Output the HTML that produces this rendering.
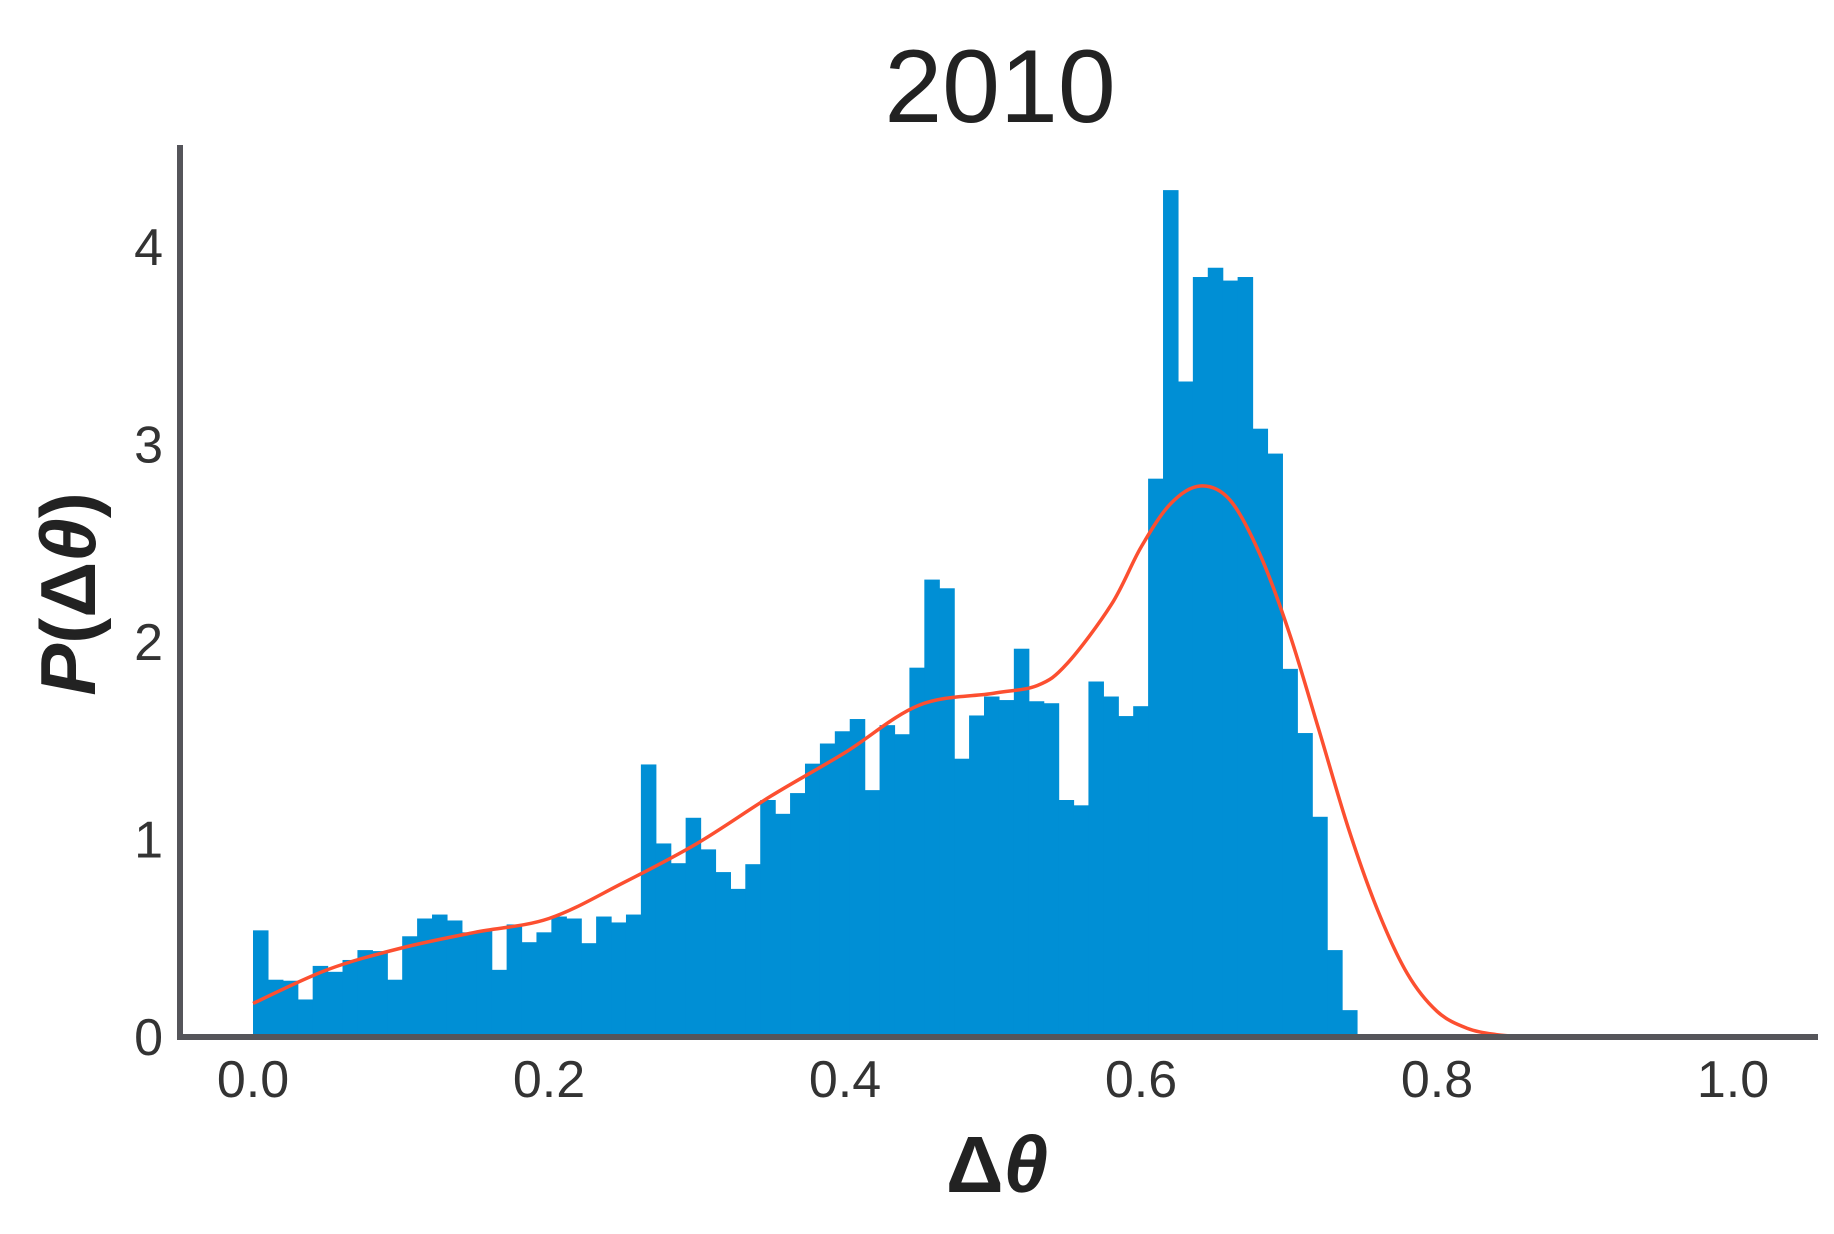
<!DOCTYPE html>
<html><head><meta charset="utf-8"><style>
html,body{margin:0;padding:0;background:#fff;}
svg{display:block;font-family:"Liberation Sans",sans-serif;}
</style></head><body>
<svg id="chart" width="1834" height="1234" viewBox="0 0 1834 1234" xmlns="http://www.w3.org/2000/svg">
<rect width="1834" height="1234" fill="#fff"/>
<text x="1000" y="122" font-size="104" text-anchor="middle" fill="#222">2010</text>
<g id="bars"></g>
<path id="kde" fill="none" stroke="#fc4f30" stroke-width="3.5"/>
<line x1="180" y1="145" x2="180" y2="1040" stroke="#55555a" stroke-width="6"/>
<line x1="177" y1="1037" x2="1818" y2="1037" stroke="#55555a" stroke-width="6"/>
<g id="xticks"></g>
<g id="yticks"></g>
<text x="997" y="1192" font-size="80" font-weight="bold" text-anchor="middle" fill="#222">Δ<tspan font-style="italic">θ</tspan></text>
<text transform="translate(95,594) rotate(-90)" font-size="78" font-weight="bold" text-anchor="middle" fill="#222"><tspan font-style="italic">P</tspan>(Δ<tspan font-style="italic">θ</tspan>)</text>
</svg>
<script>
const binStart = 0.0;
const binWidth = 0.01008;
const binValues = [0.54,0.29,0.285,0.19,0.36,0.33,0.39,0.44,0.435,0.29,
0.51,0.60,0.62,0.59,0.53,0.54,0.34,0.57,0.48,0.53,
0.61,0.60,0.475,0.61,0.58,0.62,1.38,0.98,0.88,1.11,
0.95,0.835,0.75,0.875,1.20,1.13,1.235,1.384,1.486,1.548,
1.61,1.25,1.579,1.533,1.87,2.316,2.272,1.409,1.628,1.724,
1.706,1.966,1.70,1.69,1.20,1.173,1.80,1.724,1.625,1.675,
2.827,4.288,3.319,3.848,3.895,3.83,3.848,3.08,2.954,1.864,
1.539,1.115,0.44,0.136];
const kdeX = [0,0.05,0.1,0.15,0.2,0.25,0.3,0.35,0.4,0.45,0.5,0.53,0.55,0.58,0.6,0.62,0.64,0.66,0.68,0.7,0.72,0.74,0.76,0.78,0.8,0.82,0.84,0.86];
const kdeY = [0.17,0.34,0.45,0.53,0.60,0.78,0.98,1.22,1.44,1.68,1.74,1.78,1.89,2.19,2.48,2.70,2.79,2.72,2.45,2.05,1.56,1.06,0.64,0.32,0.13,0.045,0.012,0.0];
const xTicks = ["0.0","0.2","0.4","0.6","0.8","1.0"];
const xTickVals = [0,0.2,0.4,0.6,0.8,1.0];
const yTicks = ["0","1","2","3","4"];
const yTickVals = [0,1,2,3,4];

const NS="http://www.w3.org/2000/svg";
function xs(v){return 253 + v*1480;}
function ys(v){return 1037 - v*197.5;}
const bars=document.getElementById('bars');
binValues.forEach((v,i)=>{
  const r=document.createElementNS(NS,'rect');
  const x0=xs(binStart+i*binWidth), x1=xs(binStart+(i+1)*binWidth);
  r.setAttribute('x',x0);r.setAttribute('width',x1-x0+0.6);
  r.setAttribute('y',ys(v));r.setAttribute('height',ys(0)-ys(v));
  r.setAttribute('fill','#008fd5');
  
  
  bars.appendChild(r);
});
const pts=kdeX.map((x,i)=>[xs(x),ys(kdeY[i])]);
let d='M'+pts[0][0]+','+pts[0][1];
for(let i=0;i<pts.length-1;i++){
  const p0=pts[Math.max(0,i-1)],p1=pts[i],p2=pts[i+1],p3=pts[Math.min(pts.length-1,i+2)];
  const c1=[p1[0]+(p2[0]-p0[0])/6,p1[1]+(p2[1]-p0[1])/6];
  const c2=[p2[0]-(p3[0]-p1[0])/6,p2[1]-(p3[1]-p1[1])/6];
  d+=' C'+c1[0]+','+c1[1]+' '+c2[0]+','+c2[1]+' '+p2[0]+','+p2[1];
}
document.getElementById('kde').setAttribute('d',d);
const xt=document.getElementById('xticks');
xTicks.forEach((t,i)=>{
  const e=document.createElementNS(NS,'text');
  e.setAttribute('x',xs(xTickVals[i]));e.setAttribute('y',1097);
  e.setAttribute('font-size','52');e.setAttribute('text-anchor','middle');e.setAttribute('fill','#333');
  
  
  e.textContent=t;xt.appendChild(e);
});
const yt=document.getElementById('yticks');
yTicks.forEach((t,i)=>{
  const e=document.createElementNS(NS,'text');
  e.setAttribute('x',163);e.setAttribute('y',ys(yTickVals[i])+18);
  e.setAttribute('font-size','52');e.setAttribute('text-anchor','end');e.setAttribute('fill','#333');
  
  
  e.textContent=t;yt.appendChild(e);
});
</script>
</body></html>
